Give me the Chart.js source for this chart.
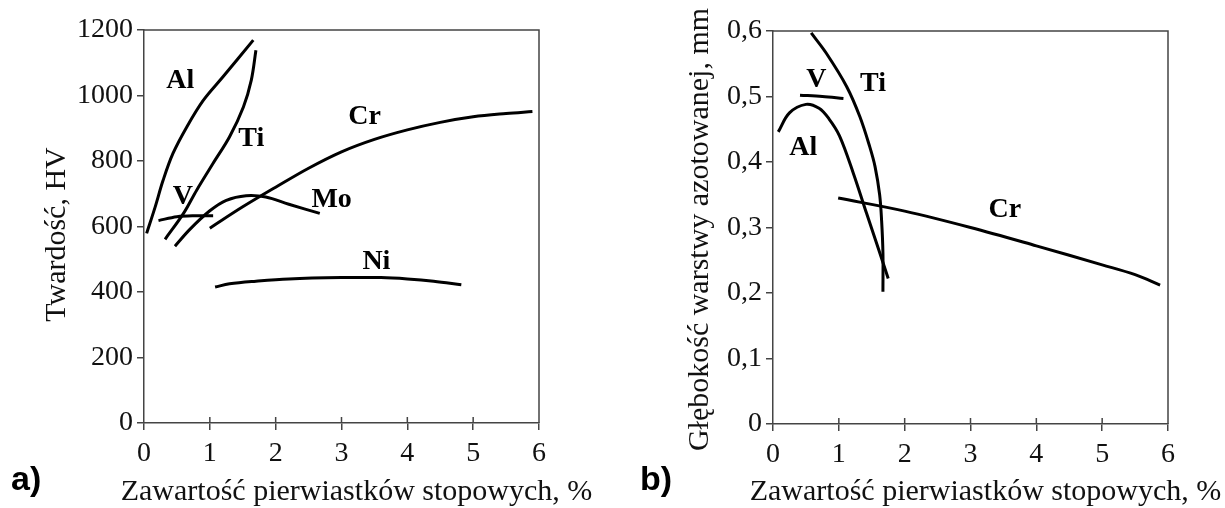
<!DOCTYPE html>
<html lang="pl">
<head>
    <meta charset="UTF-8">
    <title>Twardość i głębokość warstwy azotowanej</title>
    <script src="https://cdn.jsdelivr.net/npm/chart.js"></script>
    <style>
        body {
            margin: 0;
            background: #ffffff;
            width: 1225px;
            height: 508px;
            position: relative;
            overflow: hidden;
        }

        canvas {
            position: absolute;
            top: 0;
        }

        #wykresA { left: 0; }
        #wykresB { left: 612px; }

        .litera {
            position: absolute;
            top: 461px;
            font-family: "Liberation Sans", Arial, sans-serif;
            font-weight: bold;
            font-size: 34px;
            line-height: 34px;
            color: #000;
        }
    </style>
</head>
<body>

    <canvas id="wykresA" width="612" height="508"></canvas>
    <canvas id="wykresB" width="613" height="508"></canvas>
    <div class="litera" style="left: 11px;">a)</div>
    <div class="litera" style="left: 640px;">b)</div>

    <script>
        // a) twardość HV w funkcji zawartości pierwiastka, % -> [x, y]
        const hvAl = [[0.04, 579], [0.17, 660], [0.29, 741], [0.44, 823], [0.65, 904], [0.90, 985], [1.20, 1057], [1.66, 1169]];
        const hvTi = [[0.32, 561], [0.60, 640], [0.80, 711], [1.05, 793], [1.30, 874], [1.51, 965], [1.63, 1047], [1.70, 1138]];
        const hvV = [[0.22, 618], [0.5, 630], [0.8, 633], [1.05, 633]];
        const hvMo = [[0.47, 540], [0.7, 592], [1.0, 648], [1.25, 680], [1.55, 694], [1.85, 690], [2.2, 668], [2.67, 640]];
        const hvCr = [[1.0, 595], [1.5, 660], [2.0, 720], [2.5, 778], [3.0, 828], [3.5, 866], [4.0, 895], [4.5, 918], [5.0, 935], [5.5, 945], [5.9, 951]];
        const hvNi = [[1.08, 415], [1.3, 425], [1.7, 433], [2.2, 440], [3.0, 444], [3.6, 444], [4.0, 440], [4.4, 433], [4.82, 422]];

        // b) głębokość warstwy azotowanej, mm
        const glAl = [[0.08, 0.446], [0.25, 0.475], [0.5, 0.488], [0.7, 0.482], [0.85, 0.466], [1.01, 0.44], [1.22, 0.383], [1.42, 0.322], [1.60, 0.268], [1.75, 0.222]];
        const glTi = [[0.58, 0.597], [0.81, 0.566], [1.12, 0.515], [1.32, 0.469], [1.47, 0.423], [1.55, 0.393], [1.62, 0.35], [1.65, 0.31], [1.67, 0.261], [1.67, 0.202]];
        const glV = [[0.41, 0.502], [0.75, 0.500], [1.07, 0.497]];
        const glCr = [[0.99, 0.345], [2.0, 0.325], [3.0, 0.300], [4.0, 0.272], [5.0, 0.243], [5.5, 0.228], [5.88, 0.212]];

        // podpisy krzywych (nazwa, x, y w jednostkach osi)
        const hvNazwy = ['Al', 'Ti', 'V', 'Mo', 'Cr', 'Ni'];
        const hvNazwyX = [0.55, 1.63, 0.59, 2.85, 3.35, 3.53];
        const hvNazwyY = [1045, 869, 691, 681, 935, 493];
        const glNazwy = ['V', 'Ti', 'Al', 'Cr'];
        const glNazwyX = [0.66, 1.52, 0.46, 3.52];
        const glNazwyY = [0.525, 0.52, 0.421, 0.327];

        const xTicks = [0, 1, 2, 3, 4, 5, 6];
        const xTytul = 'Zawartość pierwiastków stopowych, %';

        const SERIF = '"Liberation Serif", "Times New Roman", serif';
        const KOLOR_OSI = '#444';

        function seria(punkty) {
            return {
                data: punkty.map(p => ({ x: p[0], y: p[1] })),
                showLine: true,
                borderColor: '#000',
                borderWidth: 3,
                pointRadius: 0,
                tension: 0.35,
                fill: false
            };
        }

        // ramka (góra, prawo), kreski osi X do środka, tytuły osi i podpisy krzywych
        // (tytuły rysowane ręcznie, bo Chart.js ściska tekst do długości osi)
        function ramka(nazwy, nx, ny, yTytul, yTytulX, yTytulDy) {
            return {
                id: 'ramka',
                afterDraw(chart) {
                    const ctx = chart.ctx;
                    const a = chart.chartArea;
                    const sx = chart.scales.x;
                    const sy = chart.scales.y;
                    ctx.save();
                    ctx.strokeStyle = KOLOR_OSI;
                    ctx.lineWidth = 1.5;
                    ctx.beginPath();
                    ctx.moveTo(a.left, a.top);
                    ctx.lineTo(a.right, a.top);
                    ctx.lineTo(a.right, a.bottom);
                    xTicks.slice(1, -1).forEach(t => {
                        const px = sx.getPixelForValue(t);
                        ctx.moveTo(px, a.bottom);
                        ctx.lineTo(px, a.bottom - 6);
                    });
                    ctx.stroke();

                    ctx.fillStyle = '#111';
                    ctx.font = '30px ' + SERIF;
                    ctx.textAlign = 'center';
                    ctx.textBaseline = 'alphabetic';
                    ctx.fillText(xTytul, (a.left + a.right) / 2 + 15, 500);

                    ctx.save();
                    ctx.translate(yTytulX, (a.top + a.bottom) / 2 + yTytulDy);
                    ctx.rotate(-Math.PI / 2);
                    ctx.textBaseline = 'middle';
                    ctx.fillText(yTytul, 0, 0);
                    ctx.restore();

                    ctx.fillStyle = '#000';
                    ctx.font = 'bold 28px ' + SERIF;
                    ctx.textBaseline = 'middle';
                    nazwy.forEach((n, i) => {
                        ctx.fillText(n, sx.getPixelForValue(nx[i]), sy.getPixelForValue(ny[i]));
                    });
                    ctx.restore();
                }
            };
        }

        function opcje(cfg) {
            return {
                responsive: false,
                animation: false,
                layout: { padding: cfg.padding },
                plugins: { legend: { display: false }, tooltip: { enabled: false } },
                scales: {
                    x: {
                        type: 'linear',
                        min: 0,
                        max: 6,
                        afterFit: s => { s.height = cfg.xHeight; },
                        afterBuildTicks: s => { s.ticks = xTicks.map(v => ({ value: v })); },
                        ticks: { color: '#111', font: { family: SERIF, size: 28 }, padding: 7 },
                        grid: { drawOnChartArea: false, tickLength: 7, color: KOLOR_OSI, lineWidth: 1.5 },
                        border: { color: KOLOR_OSI, width: 1.5 }
                    },
                    y: {
                        min: cfg.yMin,
                        max: cfg.yMax,
                        afterFit: s => { s.width = cfg.yWidth; },
                        ticks: {
                            stepSize: cfg.yStep,
                            color: '#111',
                            font: { family: SERIF, size: 28 },
                            padding: 4,
                            callback: cfg.yFormat
                        },
                        grid: { drawOnChartArea: false, tickLength: 7, color: KOLOR_OSI, lineWidth: 1.5 },
                        border: { color: KOLOR_OSI, width: 1.5 }
                    }
                }
            };
        }

        new Chart(document.getElementById('wykresA').getContext('2d'), {
            type: 'scatter',
            data: { datasets: [hvAl, hvTi, hvV, hvMo, hvCr, hvNi].map(seria) },
            options: opcje({
                padding: { left: 0, right: 73, top: 30, bottom: 0 },
                xHeight: 85,
                yWidth: 144,
                yMin: 0,
                yMax: 1200,
                yStep: 200,
                yFormat: v => String(v)
            }),
            plugins: [ramka(hvNazwy, hvNazwyX, hvNazwyY, 'Twardość, HV', 57, 8)]
        });

        new Chart(document.getElementById('wykresB').getContext('2d'), {
            type: 'scatter',
            data: { datasets: [glAl, glTi, glV, glCr].map(seria) },
            options: opcje({
                padding: { left: 0, right: 57, top: 31, bottom: 0 },
                xHeight: 84,
                yWidth: 161,
                yMin: 0,
                yMax: 0.6,
                yStep: 0.1,
                yFormat: v => (v === 0 ? '0' : v.toFixed(1).replace('.', ','))
            }),
            plugins: [ramka(glNazwy, glNazwyX, glNazwyY, 'Głębokość warstwy azotowanej, mm', 88, 2)]
        });
    </script>
</body>
</html>
